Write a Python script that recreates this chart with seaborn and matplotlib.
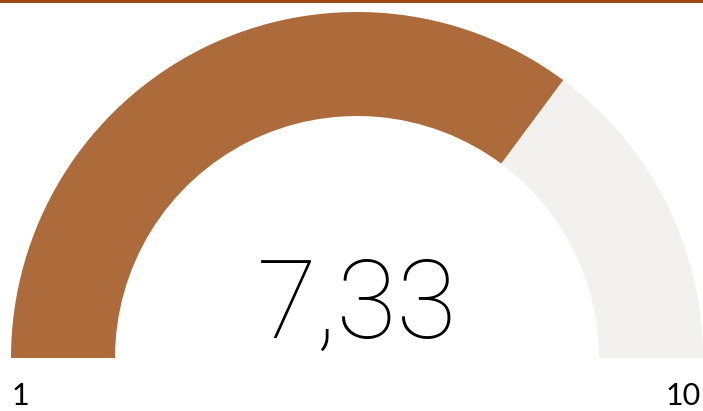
import matplotlib
matplotlib.use("Agg")
import matplotlib.pyplot as plt
from matplotlib.patches import Wedge, Rectangle
import seaborn as sns

# data
min_value = 1
max_value = 10
value = 7.33
value_label = "7,33"
range_labels = ["1", "10"]

sns.set_theme(style="white")

fig = plt.figure(figsize=(7.03, 4.11), dpi=100)
ax = fig.add_axes([0, 0, 1, 1])
ax.set_xlim(0, 703)
ax.set_ylim(411, 0)
ax.axis("off")

cx, cy = 357, 358
r_out, r_in = 346, 242
frac = (value - min_value) / (max_value - min_value)
ang = 180 - frac * 180

ax.add_patch(Wedge((cx, cy), r_out, -180, -ang, width=r_out - r_in,
                   facecolor="#AD6A3B", edgecolor="none"))
ax.add_patch(Wedge((cx, cy), r_out, -ang, 0, width=r_out - r_in,
                   facecolor="#F2F1F0", edgecolor="none"))

ax.add_patch(Rectangle((0, 0), 703, 3, facecolor="#9C4A12", edgecolor="none"))

ax.text(357, 338, value_label, ha="center", va="baseline",
        fontsize=79, family="Roboto", fontweight="light", color="black")
ax.text(12, 410, range_labels[0], ha="left", va="bottom",
        fontsize=22, family="Lato", color="black")
ax.text(701, 410, range_labels[1], ha="right", va="bottom",
        fontsize=22, family="Lato", color="black")

fig.savefig("out.png", dpi=100)
